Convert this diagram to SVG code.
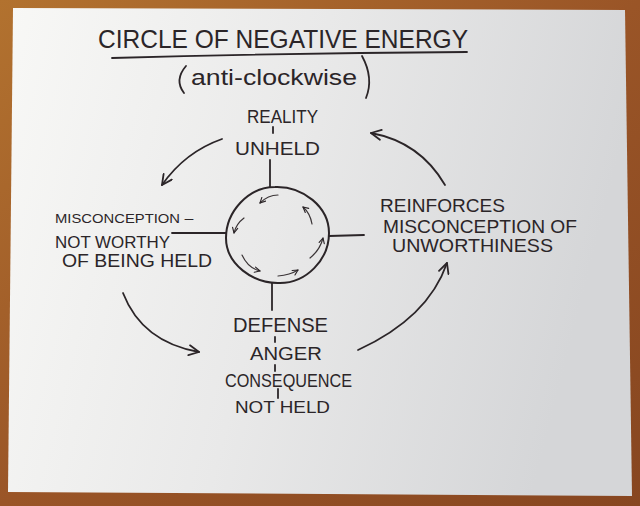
<svg xmlns="http://www.w3.org/2000/svg" width="640" height="506" viewBox="0 0 640 506">
<defs>
<linearGradient id="paper" x1="0" y1="0" x2="1" y2="0.2">
<stop offset="0" stop-color="#f8f8f6"/>
<stop offset="0.5" stop-color="#e9e9e9"/>
<stop offset="1" stop-color="#d5d6d8"/>
</linearGradient>
<linearGradient id="wood" x1="0" y1="0" x2="1" y2="1">
<stop offset="0" stop-color="#b2722f"/>
<stop offset="0.5" stop-color="#9a5527"/>
<stop offset="1" stop-color="#874620"/>
</linearGradient>
<marker id="big" viewBox="0 0 12 12" refX="11" refY="6" markerWidth="12" markerHeight="12" markerUnits="userSpaceOnUse" orient="auto">
<path d="M1,1 L11,6 L1,11" fill="none" stroke="#2b2528" stroke-width="1.8" stroke-linecap="round" stroke-linejoin="round"/>
</marker>
<marker id="small" viewBox="0 0 8 8" refX="7" refY="4" markerWidth="7" markerHeight="7" markerUnits="userSpaceOnUse" orient="auto">
<path d="M1,1 L7,4 L1,7" fill="none" stroke="#2b2528" stroke-width="1.3" stroke-linecap="round" stroke-linejoin="round"/>
</marker>
</defs>
<style>
.t{font-family:"Liberation Sans","DejaVu Sans",sans-serif;fill:#2b2528;}
.ln{fill:none;stroke:#2b2528;stroke-width:1.8;stroke-linecap:round;}
.arc{fill:none;stroke:#2b2528;stroke-width:1.8;stroke-linecap:round;marker-end:url(#big);}
.in{fill:none;stroke:#3a3436;stroke-width:1.2;stroke-linecap:round;marker-end:url(#small);}
</style>
<rect width="640" height="506" fill="url(#wood)"/>
<polygon points="13,8 625,10 632,496 8,492" fill="url(#paper)"/>

<g id="title">
<text class="t" x="98" y="48" font-size="25" textLength="370" lengthAdjust="spacingAndGlyphs">CIRCLE OF NEGATIVE ENERGY</text>
<path class="ln" d="M112,58 Q290,53 467,52"/>
<path class="ln" d="M186,66 Q174,80 184,93"/>
<text class="t" x="191" y="85" font-size="22" textLength="166" lengthAdjust="spacingAndGlyphs">anti-clockwise</text>
<path class="ln" d="M362,56 Q374,78 366,98"/>
</g>

<g id="center">
<path d="M275,187 C303,186 329,207 329,233 C329,260 306,283 280,283 C253,284 226,264 226,238 C226,212 248,187 275,187 Z" fill="none" stroke="#2b2528" stroke-width="2"/>
<path class="in" d="M278,195 Q268,195 260,203"/>
<path class="in" d="M244,218 Q236,224 234,233"/>
<path class="in" d="M242,255 Q248,268 260,271"/>
<path class="in" d="M278,276 Q290,275 298,270"/>
<path class="in" d="M310,258 Q320,250 323,238"/>
<path class="in" d="M312,224 Q310,213 303,207"/>
</g>

<g id="reality">
<text class="t" x="247" y="123" font-size="18" textLength="71" lengthAdjust="spacingAndGlyphs">REALITY</text>
<text class="t" x="235" y="155" font-size="19" textLength="85" lengthAdjust="spacingAndGlyphs">UNHELD</text>
</g>

<g id="misconception">
<text class="t" x="55" y="223" font-size="13" textLength="125" lengthAdjust="spacingAndGlyphs">MISCONCEPTION</text>
<text class="t" x="183" y="223" font-size="13" textLength="12" lengthAdjust="spacingAndGlyphs">-</text>
<text class="t" x="55" y="248" font-size="16" textLength="115" lengthAdjust="spacingAndGlyphs">NOT WORTHY</text>
<text class="t" x="62" y="267" font-size="18" textLength="150" lengthAdjust="spacingAndGlyphs">OF BEING HELD</text>
</g>

<g id="reinforces">
<text class="t" x="380" y="212" font-size="19" textLength="125" lengthAdjust="spacingAndGlyphs">REINFORCES</text>
<text class="t" x="383" y="233" font-size="19" textLength="194" lengthAdjust="spacingAndGlyphs">MISCONCEPTION OF</text>
<text class="t" x="392" y="252" font-size="19" textLength="161" lengthAdjust="spacingAndGlyphs">UNWORTHINESS</text>
</g>

<g id="defense">
<text class="t" x="233" y="332" font-size="20" textLength="95" lengthAdjust="spacingAndGlyphs">DEFENSE</text>
<text class="t" x="250" y="360" font-size="19" textLength="72" lengthAdjust="spacingAndGlyphs">ANGER</text>
<text class="t" x="225" y="387" font-size="19" textLength="127" lengthAdjust="spacingAndGlyphs">CONSEQUENCE</text>
<text class="t" x="235" y="413" font-size="17" textLength="95" lengthAdjust="spacingAndGlyphs">NOT HELD</text>
</g>

<g id="connectors">
<line class="ln" x1="273" y1="127" x2="273" y2="133"/>
<line class="ln" x1="270" y1="160" x2="270" y2="187"/>
<line class="ln" x1="172" y1="233" x2="226" y2="233"/>
<line class="ln" x1="329" y1="236" x2="364" y2="235"/>
<line class="ln" x1="272" y1="283" x2="272" y2="310"/>
<line class="ln" x1="275" y1="337" x2="275" y2="342"/>
<line class="ln" x1="275" y1="365" x2="275" y2="371"/>
<line class="ln" x1="278" y1="389" x2="278" y2="398"/>
<path class="arc" d="M222,139 Q185,152 162,185"/>
<path class="arc" d="M123,293 Q142,342 199,352"/>
<path class="arc" d="M358,350 Q428,318 447,263"/>
<path class="arc" d="M445,185 Q420,142 371,133"/>
</g>
</svg>
